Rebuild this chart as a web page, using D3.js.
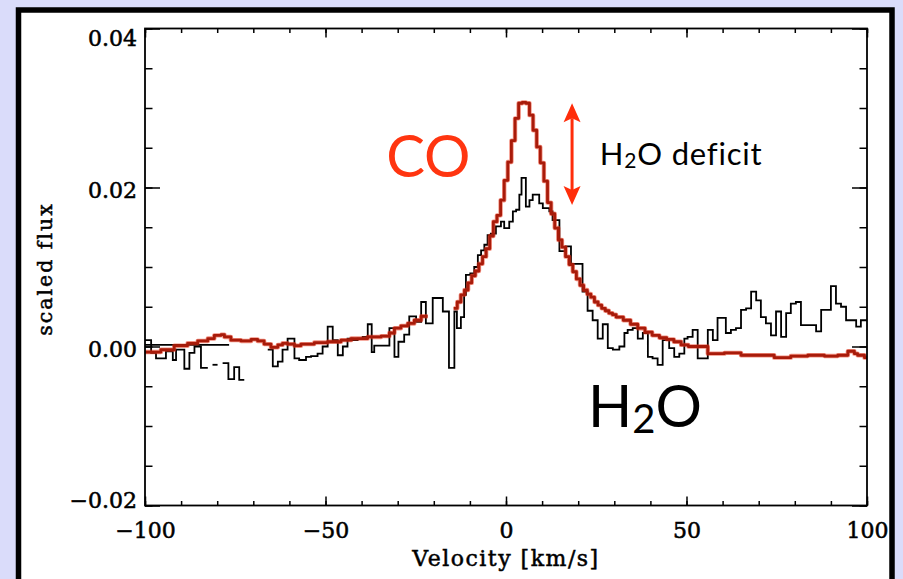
<!DOCTYPE html>
<html>
<head>
<meta charset="utf-8">
<script src="https://cdn.jsdelivr.net/npm/d3@7"></script>
<style>
  html, body { margin: 0; padding: 0; background: #dadcfa; }
  svg { display: block; }
  .tick-label { font-family: "DejaVu Serif", serif; font-size: 22px; fill: #000; stroke: #000; stroke-width: 0.55px; }
  .axis-title { font-family: "DejaVu Serif", serif; fill: #000; stroke: #000; stroke-width: 0.5px; }
  .note { font-family: "Lato", "Open Sans", sans-serif; }
</style>
</head>
<body>
<svg id="chart" width="903" height="579"></svg>
<script>
// Velocity axis ticks (km/s) and flux axis ticks
const xMajorTicks = [-100, -50, 0, 50, 100];
const xMinorTicks = d3.range(-100, 100.1, 10);
const yMajorTicks = [-0.02, 0.00, 0.02, 0.04];
const yMinorTicks = [-0.02, -0.015, -0.01, -0.005, 0, 0.005, 0.01, 0.015, 0.02, 0.025, 0.03, 0.035, 0.04];

// H2O spectrum: [bin left edge (km/s), scaled flux]; null opens a gap
const h2oBins = [
  [-100, 0.0008], [-98.3, -0.0008], [-96.95, -0.0015], [-94.2, -0.0006], [-92.3, -0.0017],
  [-91.4, -0.0004], [-89.1, -0.0028], [-87.7, -0.0008], [-86.3, 0.0000], [-84.5, -0.0027],
  [-82.6, null], [-81.3, -0.0023], [-79.9, null],
  [-78.5, -0.0021], [-76.9, -0.0041], [-75.3, -0.0026], [-73.9, -0.0042], [-72.5, null],
  [-66.0, -0.0004], [-64.6, -0.0025], [-63.2, -0.0019], [-61.9, -0.0004], [-60.5, 0.0010],
  [-58.6, -0.0015], [-57.3, -0.0017], [-55.4, -0.0013], [-54.0, -0.0012], [-52.2, -0.0009],
  [-50.8, 0.0000], [-49.4, 0.0025], [-48.0, 0.0008], [-46.6, -0.0011], [-45.2, 0.0000],
  [-43.9, 0.0010], [-42.5, 0.0008], [-41.1, 0.0010], [-39.7, 0.0012], [-38.3, 0.0028],
  [-37.2, -0.0007], [-36.5, 0.0001], [-32.3, 0.0023], [-30.9, -0.0013], [-29.8, 0.0006],
  [-28.2, 0.0015], [-26.8, 0.0038], [-24.9, 0.0031], [-23.5, 0.0056], [-22.2, 0.0029],
  [-20.3, 0.0061], [-17.5, 0.0044], [-15.8, -0.0027], [-14.3, 0.0044], [-13.6, 0.0023],
  [-12.5, 0.0037], [-11.6, 0.0065], [-11.1, 0.0090], [-9.9, 0.0092], [-8.8, 0.0100],
  [-7.8, 0.0115], [-6.9, 0.0121], [-6.0, 0.0128], [-5.1, 0.0140], [-4.2, 0.0142],
  [-2.8, 0.0151], [-1.4, 0.0157], [-0.5, 0.0149], [0.9, 0.0157], [1.9, 0.0170],
  [2.8, 0.0172], [3.7, 0.0191], [4.3, 0.0212], [5.5, 0.0176], [6.5, 0.0184],
  [7.4, 0.0191], [9.2, 0.0180], [10.2, 0.0174], [12.0, 0.0170], [12.9, 0.0159],
  [14.8, 0.0120], [16.6, 0.0126], [18.0, 0.0104], [21.2, 0.0069], [22.6, 0.0045],
  [24.0, 0.0033], [25.4, 0.0010], [26.8, 0.0028], [28.2, -0.0002], [29.6, -0.0004],
  [31.4, 0.0000], [32.8, 0.0017], [33.7, 0.0021], [35.1, 0.0023], [36.5, 0.0010],
  [37.9, 0.0017], [39.3, -0.0013], [40.6, -0.0015], [42.0, -0.0023], [43.4, 0.0008],
  [45.2, -0.0002], [46.6, -0.0013], [48.0, -0.0009], [49.4, 0.0010], [50.3, 0.0012],
  [51.7, 0.0021], [53.1, -0.0015], [55.9, 0.0021], [57.3, 0.0008], [58.6, 0.0036],
  [60.9, 0.0017], [62.3, 0.0021], [63.7, 0.0023], [65.1, 0.0046], [66.5, 0.0048],
  [67.9, 0.0069], [69.3, 0.0058], [70.6, 0.0037], [72.0, 0.0029], [73.4, 0.0014],
  [74.8, 0.0044], [76.2, 0.0012], [77.6, 0.0042], [78.9, 0.0054], [80.3, 0.0056],
  [81.7, 0.0027], [85.9, 0.0019], [87.3, 0.0046], [90.0, 0.0076], [91.4, 0.0054],
  [92.8, 0.0050], [94.2, 0.0033], [97.0, 0.0025], [98.3, 0.0033]
];
const h2oEnd = 100;

// flat H2O stretch at the blue end of the order
const h2oFlat = [[-100, 0.0002], [-76.7, 0.0002]];

// CO spectrum: [bin left edge (km/s), scaled flux]; null opens a gap
const coBins = [
  [-100, -0.0007], [-95.6, -0.0004], [-91.9, 0.0001], [-88.2, 0.0004], [-85.4, 0.0007],
  [-82.6, 0.0010], [-80.8, 0.0014], [-78.9, 0.0015], [-78.0, 0.0012], [-76.2, 0.0008],
  [-73.4, 0.0007], [-70.6, 0.0009], [-68.8, 0.0007], [-67.0, 0.0003], [-65.1, -0.0001],
  [-63.2, 0.0002], [-61.9, 0.0004], [-60.5, 0.0003], [-58.6, 0.0001], [-56.8, 0.0003],
  [-53.1, 0.0005], [-49.4, 0.0006], [-45.7, 0.0008], [-42.9, 0.0010], [-38.3, 0.0012],
  [-34.6, 0.0013], [-32.3, 0.0017], [-30.9, 0.0023], [-29.1, 0.0026], [-27.2, 0.0029],
  [-25.4, 0.0033], [-23.5, 0.0038], [-21.7, null],
  [-14.5, 0.0048], [-13.5, 0.0056], [-12.5, 0.0065], [-11.5, 0.0071], [-10.5, 0.0080],
  [-9.5, 0.0089], [-8.5, 0.0095], [-7.5, 0.0104], [-6.5, 0.0113], [-5.5, 0.0123],
  [-4.5, 0.0139], [-3.5, 0.0157], [-2.5, 0.0165], [-1.5, 0.0184], [-0.5, 0.0209],
  [0.5, 0.0232], [1.5, 0.0259], [2.5, 0.0287], [3.5, 0.0306], [4.5, 0.0307],
  [5.5, 0.0306], [6.5, 0.0291], [7.5, 0.0272], [8.5, 0.0251], [9.5, 0.0231],
  [10.5, 0.0208], [11.5, 0.0181], [12.5, 0.0167], [13.5, 0.0149], [14.5, 0.0134],
  [15.5, 0.0125], [16.5, 0.0113], [17.5, 0.0103], [18.5, 0.0094], [19.5, 0.0085],
  [20.5, 0.0077], [21.5, 0.0071], [22.5, 0.0066], [23.5, 0.0062], [24.5, 0.0056],
  [25.5, 0.0052], [26.5, 0.0048], [27.5, 0.0045], [28.5, 0.0042], [29.5, 0.0040],
  [30.5, 0.0037], [32.5, 0.0033], [34.5, 0.0028], [36.5, 0.0023], [38.5, 0.0018],
  [40.5, 0.0014], [42.5, 0.0011], [44.5, 0.0009], [46.5, 0.0006], [48.5, 0.0002],
  [50.5, 0.0000], [55.9, -0.0009], [60.5, -0.0008], [65.1, -0.0011], [69.7, -0.0011],
  [74.3, -0.0014], [78.9, -0.0012], [83.6, -0.0011], [88.2, -0.0012], [91.9, -0.0011],
  [94.7, -0.0006], [96.5, -0.0009], [97.4, -0.0011], [99.3, -0.0014]
];
const coEnd = 100;

// annotation: height of the deficit arrow (scaled flux)
const deficitRange = [0.0306, 0.0178];

const svg = d3.select("#chart");
const W = 903, H = 579;

// slide frame
svg.append("rect").attr("width", W).attr("height", H).attr("fill", "#dadcfa");
svg.append("rect")
  .attr("x", 18.5).attr("y", 10).attr("width", 873.5).attr("height", 640)
  .attr("fill", "#ffffff").attr("stroke", "#000").attr("stroke-width", 5.5);

const x = d3.scaleLinear().domain([-100, 100]).range([145, 867]);
const y = d3.scaleLinear().domain([-0.02, 0.04]).range([505.5, 28.5]);
const [x0, x1] = x.range();
const [y0, y1] = y.range();

// turn [edge, flux] bins into drawable step segments
function stepSegments(bins, end) {
  const segs = [];
  let cur = null;
  bins.forEach(([v, f], i) => {
    const next = i + 1 < bins.length ? bins[i + 1][0] : end;
    if (f == null) { cur = null; return; }
    if (!cur) { cur = []; segs.push(cur); }
    cur.push([v, f]);
    if (i + 1 === bins.length || bins[i + 1][1] == null) cur.push([next, f]);
  });
  return segs;
}

const stepLine = d3.line().x(d => x(d[0])).y(d => y(d[1])).curve(d3.curveStepAfter);
const flatLine = d3.line().x(d => x(d[0])).y(d => y(d[1]));

const plot = svg.append("g");

// H2O
plot.append("path").datum(h2oFlat).attr("d", flatLine)
  .attr("fill", "none").attr("stroke", "#000").attr("stroke-width", 1.6);
plot.selectAll(".h2o").data(stepSegments(h2oBins, h2oEnd)).join("path")
  .attr("class", "h2o").attr("d", stepLine)
  .attr("fill", "none").attr("stroke", "#000").attr("stroke-width", 1.8);

// CO (soft red rim under a dark red core)
const coSegs = stepSegments(coBins, coEnd);
plot.selectAll(".co-rim").data(coSegs).join("path")
  .attr("class", "co-rim").attr("d", stepLine)
  .attr("fill", "none").attr("stroke", "#e8341a").attr("stroke-opacity", 0.55)
  .attr("stroke-width", 4.4).attr("stroke-linejoin", "round");
plot.selectAll(".co").data(coSegs).join("path")
  .attr("class", "co").attr("d", stepLine)
  .attr("fill", "none").attr("stroke", "#a81b0a")
  .attr("stroke-width", 2.8).attr("stroke-linejoin", "round");

// axes: ticks point inward on all four sides
function styleAxis(g) {
  g.select(".domain").remove();
  g.selectAll(".tick line").attr("stroke", "#000").attr("stroke-width", 1.5);
}
const fmtX = d3.format("d");
const fmtY = d3.format(".2f");

svg.append("g").attr("transform", `translate(0,${y0})`)
  .call(d3.axisBottom(x).tickValues(xMinorTicks).tickSize(-4.5).tickFormat(""))
  .call(styleAxis);
svg.append("g").attr("transform", `translate(0,${y1})`)
  .call(d3.axisTop(x).tickValues(xMinorTicks).tickSize(-4.5).tickFormat(""))
  .call(styleAxis);
svg.append("g").attr("transform", `translate(0,${y1})`)
  .call(d3.axisTop(x).tickValues(xMajorTicks).tickSize(-9).tickFormat(""))
  .call(styleAxis);
const bottom = svg.append("g").attr("transform", `translate(0,${y0})`)
  .call(d3.axisBottom(x).tickValues(xMajorTicks).tickSize(-9).tickFormat(fmtX))
  .call(styleAxis);
bottom.attr("font-size", null).attr("font-family", null);
bottom.selectAll(".tick text")
  .attr("class", "tick-label").attr("y", 32.5).attr("dy", null).attr("fill", "#000");

svg.append("g").attr("transform", `translate(${x0},0)`)
  .call(d3.axisLeft(y).tickValues(yMinorTicks).tickSize(-7.5).tickFormat(""))
  .call(styleAxis);
svg.append("g").attr("transform", `translate(${x1},0)`)
  .call(d3.axisRight(y).tickValues(yMinorTicks).tickSize(-7.5).tickFormat(""))
  .call(styleAxis);
svg.append("g").attr("transform", `translate(${x1},0)`)
  .call(d3.axisRight(y).tickValues(yMajorTicks).tickSize(-15).tickFormat(""))
  .call(styleAxis);
const left = svg.append("g").attr("transform", `translate(${x0},0)`)
  .call(d3.axisLeft(y).tickValues(yMajorTicks).tickSize(-15).tickPadding(8).tickFormat(fmtY))
  .call(styleAxis);
left.attr("font-size", null).attr("font-family", null);
left.selectAll(".tick text")
  .attr("class", "tick-label").attr("dy", null).attr("fill", "#000")
  .attr("y", d => {
    const base = Math.min(Math.max(y(d) + 9.5, y1 + 16.5), y0 + 1.5);
    return base - y(d);
  });

// plot frame
svg.append("rect")
  .attr("x", x0).attr("y", y1).attr("width", x1 - x0).attr("height", y0 - y1)
  .attr("fill", "none").attr("stroke", "#000").attr("stroke-width", 1.8);

// axis titles
svg.append("text").attr("class", "axis-title")
  .attr("x", (x0 + x1) / 2).attr("y", 566)
  .attr("text-anchor", "middle").attr("font-size", 22).attr("letter-spacing", 1.5)
  .text("Velocity [km/s]");
svg.append("text").attr("class", "axis-title")
  .attr("transform", `translate(52,${(y0 + y1) / 2 + 2}) rotate(-90)`)
  .attr("text-anchor", "middle").attr("font-size", 20.5).attr("letter-spacing", 2)
  .text("scaled flux");

// annotations
svg.append("text").attr("class", "note")
  .attr("x", x(-33.2)).attr("y", y(0.0213))
  .attr("font-size", 58).attr("fill", "#ff3510")
  .text("CO");

const h2oLabel = svg.append("text").attr("class", "note")
  .attr("x", x(22.7)).attr("y", y(-0.0101))
  .attr("font-size", 58).attr("fill", "#000");
h2oLabel.append("tspan").text("H");
h2oLabel.append("tspan").attr("font-size", 40).attr("dy", 6).text("2");
h2oLabel.append("tspan").attr("dy", -6).text("O");

const defLabel = svg.append("text").attr("class", "note")
  .attr("x", x(26.0)).attr("y", y(0.0228))
  .attr("font-size", 31).attr("letter-spacing", 0.8).attr("fill", "#000");
defLabel.append("tspan").text("H");
defLabel.append("tspan").attr("font-size", 21).attr("dy", 3).text("2");
defLabel.append("tspan").attr("dy", -3).text("O deficit");

// double-headed arrow
const ax = x(18.3);
const aTop = y(deficitRange[0]);
const aBot = y(deficitRange[1]);
const headL = 19, headW = 8.5, notch = 4;
const arrowColor = "#ff2d0a";
svg.append("line")
  .attr("x1", ax).attr("x2", ax).attr("y1", aTop + headL - notch).attr("y2", aBot - headL + notch)
  .attr("stroke", arrowColor).attr("stroke-width", 3);
svg.append("path")
  .attr("d", `M${ax},${aTop} L${ax + headW},${aTop + headL} L${ax},${aTop + headL - notch} L${ax - headW},${aTop + headL} Z`)
  .attr("fill", arrowColor);
svg.append("path")
  .attr("d", `M${ax},${aBot} L${ax + headW},${aBot - headL} L${ax},${aBot - headL + notch} L${ax - headW},${aBot - headL} Z`)
  .attr("fill", arrowColor);
</script>
</body>
</html>
